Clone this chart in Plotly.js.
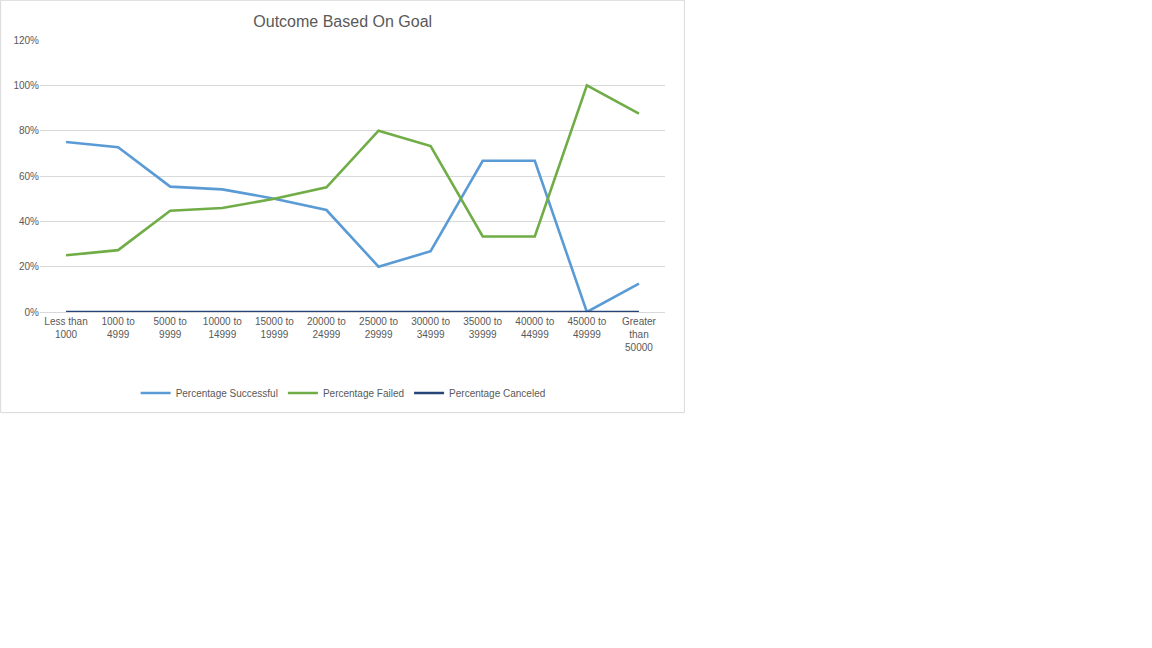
<!DOCTYPE html>
<html>
<head>
<script src="https://cdn.plot.ly/plotly-3.0.1.min.js"></script>
<style>body{margin:0;background:#fff}</style>
</head>
<body>
<div id="plotdiv"></div>
<script>
var categories = ['Less than<br>1000', '1000 to<br>4999', '5000 to<br>9999', '10000 to<br>14999',
    '15000 to<br>19999', '20000 to<br>24999', '25000 to<br>29999', '30000 to<br>34999',
    '35000 to<br>39999', '40000 to<br>44999', '45000 to<br>49999', 'Greater<br>than<br>50000'];
var successful = [0.75, 0.727, 0.553, 0.541, 0.50, 0.45, 0.20, 0.268, 0.667, 0.667, 0, 0.125];
var failed = [0.25, 0.273, 0.447, 0.459, 0.50, 0.55, 0.80, 0.732, 0.333, 0.333, 1.0, 0.875];
var canceled = [0, 0, 0, 0, 0, 0, 0, 0, 0, 0, 0, 0];

var font = {family: 'Liberation Sans, Arial, sans-serif', size: 10, color: '#595959'};

function series(name, ys, color) {
    return {
        x: categories,
        y: ys,
        type: 'scatter',
        mode: 'lines',
        name: name,
        line: {color: color, width: 2.6}
    };
}

var data = [
    series('Percentage Successful', successful, '#5b9bd5'),
    series('Percentage Failed', failed, '#70ad47'),
    series('Percentage Canceled', canceled, '#264478')
];

var layout = {
    width: 1152,
    height: 648,
    margin: {l: 40, r: 487, t: 40, b: 336},
    paper_bgcolor: '#fff',
    plot_bgcolor: '#fff',
    font: font,
    title: {text: 'Outcome Based On Goal', x: 0.2975, xanchor: 'center', y: 0.967, yanchor: 'middle',
        font: {family: 'Liberation Sans, Arial, sans-serif', size: 16, color: '#595959'}},
    xaxis: {
        range: [-0.5, 11.5],
        showgrid: false,
        showline: true,
        linecolor: '#d9d9d9',
        ticks: '',
        tickangle: 0,
        tickfont: font,
        fixedrange: true
    },
    yaxis: {
        range: [0, 1.2],
        dtick: 0.2,
        tickformat: '.0%',
        gridcolor: '#d9d9d9',
        zeroline: false,
        ticks: '',
        tickfont: font,
        fixedrange: true
    },
    showlegend: true,
    legend: {orientation: 'h', x: 0.485, xanchor: 'center', y: -0.298, yanchor: 'middle', font: font},
    shapes: [{
        type: 'rect', xref: 'paper', yref: 'paper',
        x0: -0.063, x1: 1.031, y0: -0.37, y1: 1.146,
        line: {color: '#d9d9d9', width: 1}
    }]
};

Plotly.newPlot('plotdiv', data, layout, {displayModeBar: false, staticPlot: true});
</script>
</body>
</html>
